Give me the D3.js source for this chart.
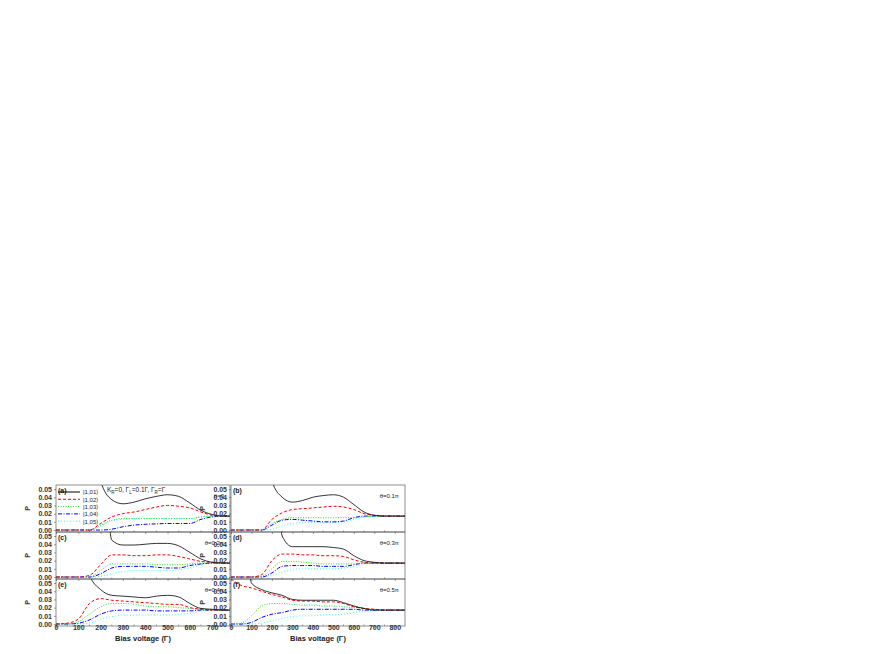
<!DOCTYPE html><html><head><meta charset="utf-8"><script src="https://cdn.jsdelivr.net/npm/d3@7"></script>
<style>body{margin:0;background:#fff}text{font-family:Arial,"Liberation Sans",sans-serif}</style></head><body>
<script>
const xs=d3.range(0,851,50);
const labels=["|1,01⟩","|1,02⟩","|1,03⟩","|1,04⟩","|1,05⟩"];
const panelNames=["(a)","(b)","(c)","(d)","(e)","(f)"];
const thetas=["θ=0","θ=0.1π","θ=0.2π","θ=0.3π","θ=0.4π","θ=0.5π"];
const yTicks=[0,0.01,0.02,0.03,0.04,0.05];
//        0    50   100  150  200   250   300   350   400   450   500   550   600   650   700   750   800   850
const a1=[.2,.2,.2,.2,.06,.037,.032,.034,.038,.041,.043,.041,.033,.024,.019,.017,.017,.017];
const a2=[0,0,0,0,.008,.016,.02,.022,.025,.028,.03,.029,.027,.022,.018,.017,.017,.017];
const a3=[0,0,0,0,.006,.012,.014,.014,.014,.014,.014,.014,.014,.016,.017,.017,.017,.017];
const a4=[0,0,0,0,0,.001,.004,.006,.007,.0075,.008,.008,.008,.013,.016,.017,.017,.017];
const a5=[0,0,0,0,.005,.011,.013,.014,.014,.014,.014,.014,.014,.016,.017,.017,.017,.017];
const b1=[.2,.2,.2,.2,.06,.04,.034,.036,.04,.042,.043,.04,.031,.022,.018,.017,.017,.017];
const b2=[0,0,0,0,.013,.021,.025,.026,.027,.028,.029,.028,.025,.02,.018,.017,.017,.017];
const b3=[0,0,0,0,.008,.013,.015,.015,.015,.015,.015,.015,.015,.016,.017,.017,.017,.017];
const b4=[0,0,0,0,.006,.012,.013,.012,.011,.01,.01,.011,.015,.017,.017,.017,.017,.017];
const b5=[0,0,0,0,.001,.005,.008,.009,.009,.009,.009,.01,.013,.016,.017,.017,.017,.017];
const c1=[.2,.2,.2,.2,.2,.045,.039,.039,.04,.041,.041,.038,.03,.022,.018,.017,.017,.017];
const c2=[0,0,0,.002,.015,.027,.027,.026,.026,.027,.027,.025,.022,.019,.018,.017,.017,.017];
const c3=[0,0,0,0,.008,.016,.016,.016,.016,.015,.015,.015,.016,.017,.017,.017,.017,.017];
const c4=[0,0,0,0,.004,.011,.013,.013,.013,.012,.011,.011,.014,.016,.017,.017,.017,.017];
const c5=[0,0,0,0,.001,.004,.007,.008,.008,.008,.008,.009,.011,.015,.017,.017,.017,.017];
const dd1=[.2,.2,.2,.2,.2,.05,.037,.037,.037,.037,.036,.034,.026,.02,.018,.017,.017,.017];
const dd2=[0,0,0,.003,.02,.028,.028,.027,.027,.026,.026,.025,.021,.018,.017,.017,.017,.017];
const dd3=[0,0,0,.001,.01,.019,.019,.018,.017,.016,.016,.016,.016,.017,.017,.017,.017,.017];
const dd4=[0,0,0,0,.005,.013,.014,.014,.014,.013,.013,.013,.015,.017,.017,.017,.017,.017];
const dd5=[0,0,0,0,.002,.006,.009,.01,.01,.01,.01,.011,.013,.016,.017,.017,.017,.017];
const e1=[.2,.2,.2,.06,.042,.035,.034,.033,.032,.034,.035,.033,.025,.019,.018,.017,.017,.017];
const e2=[0,.001,.006,.025,.031,.029,.028,.027,.026,.025,.024,.024,.02,.018,.017,.017,.017,.017];
const e3=[0,0,.003,.012,.021,.025,.025,.024,.022,.021,.021,.02,.019,.018,.017,.017,.017,.017];
const e4=[0,0,.001,.005,.012,.016,.017,.017,.017,.016,.016,.016,.016,.017,.017,.017,.017,.017];
const e5=[0,0,0,.001,.006,.009,.011,.011,.011,.011,.011,.012,.013,.016,.017,.017,.017,.017];
const f1=[.2,.2,.05,.042,.038,.035,.03,.029,.029,.029,.029,.026,.022,.019,.017,.017,.017,.017];
const f2=[.055,.047,.044,.04,.036,.033,.029,.028,.028,.027,.027,.025,.021,.019,.018,.017,.017,.017];
const f3=[0,.001,.01,.022,.025,.025,.024,.023,.023,.022,.022,.021,.02,.019,.018,.017,.017,.017];
const f4=[0,0,.002,.008,.012,.014,.017,.018,.018,.018,.018,.018,.018,.017,.017,.017,.017,.017];
const f5=[0,0,0,.001,.004,.007,.009,.01,.01,.011,.011,.012,.014,.016,.017,.017,.017,.017];
const panels=[[a1,a2,a3,a4,a5],[b1,b2,b3,b4,b5],[c1,c2,c3,c4,c5],[dd1,dd2,dd3,dd4,dd5],[e1,e2,e3,e4,e5],[f1,f2,f3,f4,f5]];
const colors=["#000","#ff0000","#33dd33","#0000ff","#33ffff"];
const dashes=[null,"3,2","1,1.5","4,1.5,1,1.5","1,2"];

const svg=d3.select("body").append("svg").attr("width",872).attr("height",654);
const cols=[{x0:56,x1:230,dom:[0,780]},{x0:231,x1:405,dom:[0,850]}];
const rowTop=[485,532,579],rowH=47;
panels.forEach((ser,i)=>{
  const c=cols[i%2],r=Math.floor(i/2),top=rowTop[r];
  const x=d3.scaleLinear().domain(c.dom).range([c.x0,c.x1]);
  const y=d3.scaleLinear().domain([-0.0024,0.0549]).range([top+rowH,top]);
  const g=svg.append("g");
  const cid="clip"+i;
  svg.append("clipPath").attr("id",cid).append("rect").attr("x",c.x0).attr("y",top).attr("width",c.x1-c.x0).attr("height",rowH);
  const line=d3.line().x((d,j)=>x(xs[j])).y(d=>y(d)).curve(d3.curveMonotoneX);
  ser.slice().reverse().forEach((s,k)=>{const idx=4-k;
    g.append("path").attr("clip-path",`url(#${cid})`).attr("d",line(s)).attr("fill","none")
     .attr("stroke",colors[idx]).attr("stroke-width",idx==0?0.8:1).attr("stroke-dasharray",dashes[idx]);});
  g.append("rect").attr("x",c.x0).attr("y",top).attr("width",c.x1-c.x0).attr("height",rowH).attr("fill","none").attr("stroke","#444").attr("stroke-width",0.6);
  const ya=d3.axisLeft(y).tickValues(yTicks).tickFormat(d3.format(".2f")).tickSize(2);
  const yg=g.append("g").attr("transform",`translate(${c.x0},0)`).call(ya);
  yg.select(".domain").remove();
  yg.selectAll("text").attr("font-size",7).attr("font-weight","bold").attr("fill","#333").attr("dx",1);
  yg.selectAll("line").attr("stroke","#444").attr("stroke-width",0.5);
  g.append("text").attr("x",c.x0-26).attr("y",top+rowH/2).attr("font-size",7).attr("font-weight","bold").attr("text-anchor","middle").attr("fill","#333")
   .attr("transform",`rotate(-90,${c.x0-26},${top+rowH/2})`).text("P");
  const xa=d3.axisBottom(x).tickValues(d3.range(0,c.dom[1]+1,100)).tickSize(2).tickFormat(r==2?d3.format("d"):"");
  const xg=g.append("g").attr("transform",`translate(0,${top+rowH})`).call(xa);
  xg.select(".domain").remove();
  xg.selectAll("line").attr("stroke","#444").attr("stroke-width",0.5);
  xg.selectAll("text").attr("font-size",7).attr("font-weight","bold").attr("fill","#333").attr("dy",-1);
  g.append("g").selectAll("line").data(d3.range(50,c.dom[1],100)).join("line").attr("x1",d=>x(d)).attr("x2",d=>x(d)).attr("y1",top+rowH).attr("y2",top+rowH-1.5).attr("stroke","#444").attr("stroke-width",0.5);
  g.append("text").attr("x",c.x0+2).attr("y",top+8).attr("font-size",7).attr("font-weight","bold").attr("fill","#222").text(panelNames[i]);
  g.append("text").attr("x",c.x1-6).attr("y",top+13).attr("font-size",6).attr("text-anchor","end").attr("fill","#222").text(thetas[i]);
  if(r==2) g.append("text").attr("x",(c.x0+c.x1)/2).attr("y",top+rowH+15).attr("font-size",7.5).attr("font-weight","bold").attr("text-anchor","middle").attr("fill","#222").text("Bias voltage (Γ)");
});
const lg=svg.append("g");
labels.forEach((l,k)=>{const yy=492+k*7.3;
  lg.append("line").attr("x1",58).attr("x2",80).attr("y1",yy).attr("y2",yy).attr("stroke",colors[k]).attr("stroke-width",1).attr("stroke-dasharray",dashes[k]);
  lg.append("text").attr("x",83).attr("y",yy+2.3).attr("font-size",6).attr("fill","#222").text(l);});
const t=svg.append("text").attr("x",107).attr("y",492).attr("font-size",6.5).attr("fill","#222");
t.append("tspan").text("K");t.append("tspan").attr("font-size",4.5).attr("dy",1.5).text("R");
t.append("tspan").attr("dy",-1.5).text("=0, Γ");t.append("tspan").attr("font-size",4.5).attr("dy",1.5).text("L");
t.append("tspan").attr("dy",-1.5).text("=0.1Γ, Γ");t.append("tspan").attr("font-size",4.5).attr("dy",1.5).text("R");
t.append("tspan").attr("dy",-1.5).text("=Γ");
</script></body></html>
